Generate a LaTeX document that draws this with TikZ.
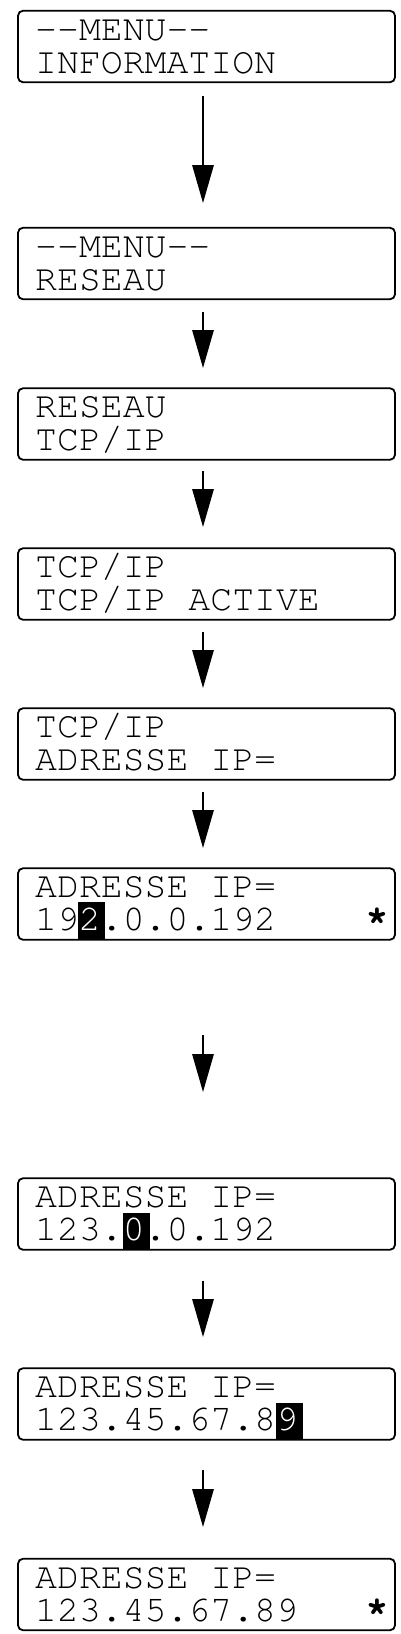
\documentclass[tikz,border=0pt]{standalone}
\usepackage[T1]{fontenc}
\usepackage{courier}
\usetikzlibrary{arrows.meta}
\tikzset{
  lcdbox/.style={draw=black, line width=1.8pt, rounded corners=5pt, minimum width=377pt, minimum height=71.5pt, inner sep=0pt},
  lcdtxt/.style={anchor=base west, inner sep=0pt, font=\ttfamily\fontsize{36.5}{40}\selectfont},
  star/.style={anchor=base, inner sep=0pt, font=\ttfamily\bfseries\fontsize{38}{40}\selectfont},
  cursor/.style={fill=black, draw=none},
  flow/.style={line width=1.4pt, -{Triangle[width=21.5pt,length=38pt]}},
}
\begin{document}
\begin{tikzpicture}[x=1pt,y=-1pt]
\useasboundingbox (0,0) rectangle (401,1634);
% cursor highlights
\fill[cursor] (78,902) rectangle (105,939);
\fill[cursor] (123,1213) rectangle (150,1249);
\fill[cursor] (276,1403) rectangle (303,1439);
% boxes
\node[lcdbox] (b1) at (206.5,46.5) {};
\node[lcdbox] (b2) at (206.5,263.5) {};
\node[lcdbox] (b3) at (206.5,424) {};
\node[lcdbox] (b4) at (206.5,584) {};
\node[lcdbox] (b5) at (206.5,744) {};
\node[lcdbox] (b6) at (206.5,904) {};
\node[lcdbox] (b7) at (206.5,1214) {};
\node[lcdbox] (b8) at (206.5,1404) {};
\node[lcdbox] (b9) at (206.5,1594.5) {};
% texts
\node[lcdtxt] (t1a) at (35,40) {-{}-MENU-{}-};
\node[lcdtxt] (t1b) at (35,73) {INFORMATION};
\node[lcdtxt] (t2a) at (35,257) {-{}-MENU-{}-};
\node[lcdtxt] (t2b) at (35,290) {RESEAU};
\node[lcdtxt] (t3a) at (35,417) {RESEAU};
\node[lcdtxt] (t3b) at (35,450) {TCP/IP};
\node[lcdtxt] (t4a) at (35,577) {TCP/IP};
\node[lcdtxt] (t4b) at (35,610) {TCP/IP ACTIVE};
\node[lcdtxt] (t5a) at (35,737) {TCP/IP};
\node[lcdtxt] (t5b) at (35,770) {ADRESSE IP=};
\node[lcdtxt] (t6a) at (35,897) {ADRESSE IP=};
\node[lcdtxt] (t6b) at (35,930) {19\textcolor{white}{2}.0.0.192};
\node[star] (s6) at (377,926) {*};
\node[lcdtxt] (t7a) at (35,1207) {ADRESSE IP=};
\node[lcdtxt] (t7b) at (35,1240) {123.\textcolor{white}{0}.0.192};
\node[lcdtxt] (t8a) at (35,1397) {ADRESSE IP=};
\node[lcdtxt] (t8b) at (35,1430) {123.45.67.8\textcolor{white}{9}};
\node[lcdtxt] (t9a) at (35,1588) {ADRESSE IP=};
\node[lcdtxt] (t9b) at (35,1621) {123.45.67.89};
\node[star] (s9) at (377,1617) {*};
% arrow ends
\coordinate (a1s) at (203,96);   \coordinate (a1e) at (203,203);
\coordinate (a2s) at (203,312);  \coordinate (a2e) at (203,368);
\coordinate (a3s) at (203,471);  \coordinate (a3e) at (203,527);
\coordinate (a4s) at (203,632);  \coordinate (a4e) at (203,688);
\coordinate (a5s) at (203,792);  \coordinate (a5e) at (203,848);
\coordinate (a6s) at (203,1035); \coordinate (a6e) at (203,1092);
\coordinate (a7s) at (203,1281); \coordinate (a7e) at (203,1337);
\coordinate (a8s) at (203,1470); \coordinate (a8e) at (203,1527);
\foreach \i in {1,...,8} { \draw[flow] (a\i s) -- (a\i e); }
\end{tikzpicture}
\end{document}
